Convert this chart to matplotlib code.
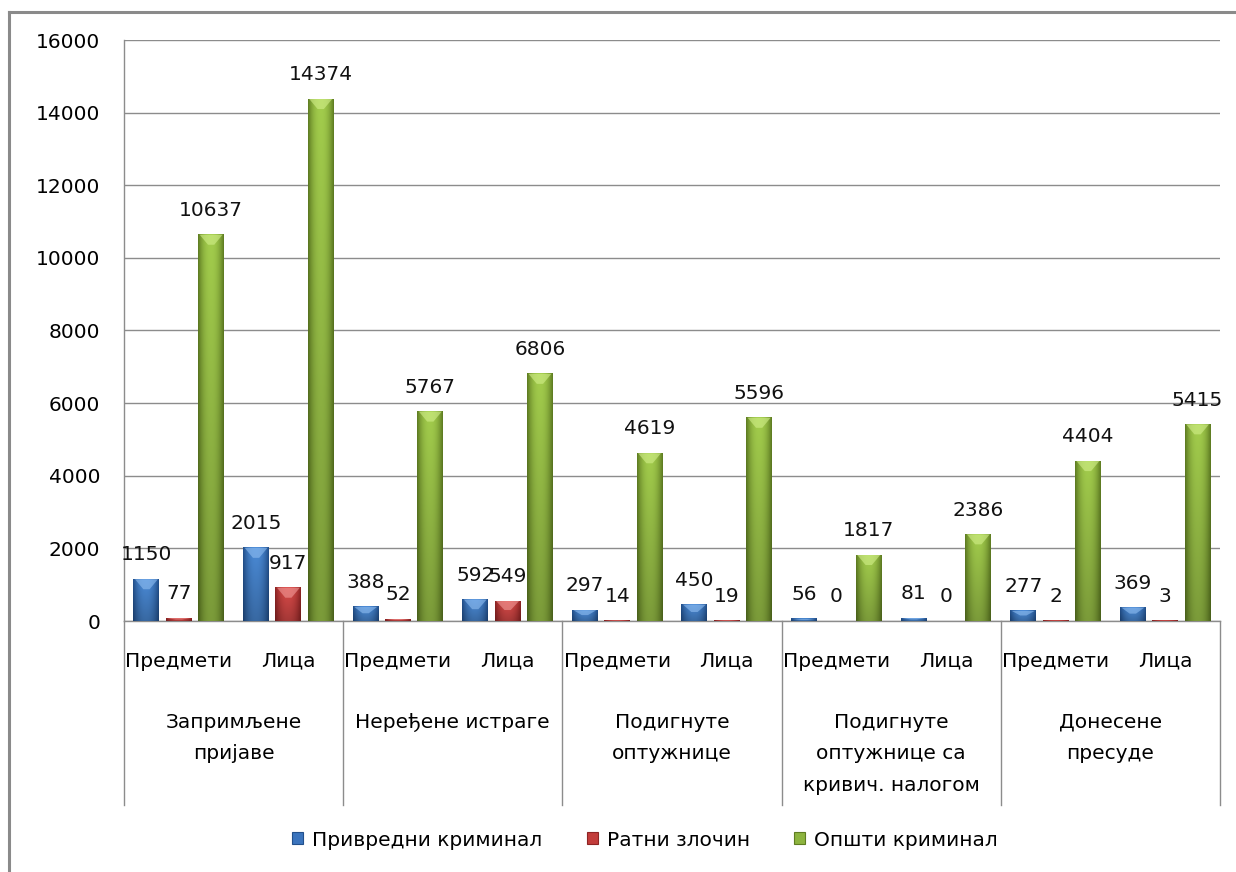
import numpy as np
import matplotlib
matplotlib.use("Agg")
import matplotlib.pyplot as plt
import matplotlib.transforms as mtransforms
from matplotlib.colors import to_rgb
from matplotlib.patches import Patch, Polygon
from matplotlib.lines import Line2D

plt.rcParams["font.family"] = ["DejaVu Sans"]

# chart data
groups = ["Запримљене\nпријаве",
          "\u041d\u0435\u0440\u0435\u0452\u0435\u043d\u0435 \u0438\u0441\u0442\u0440\u0430\u0433\u0435",
          "Подигнуте\nоптужнице",
          "Подигнуте\nоптужнице са\nкривич. налогом", "Донесене\nпресуде"]
subcats = ["Предмети", "Лица"]
series = ["Привредни криминал", "Ратни злочин", "Општи криминал"]
privredni = [1150, 2015, 388, 592, 297, 450, 56, 81, 277, 369]
ratni = [77, 917, 52, 549, 14, 19, 0, 0, 2, 3]
opsti = [10637, 14374, 5767, 6806, 4619, 5596, 1817, 2386, 4404, 5415]
yticks = [0, 2000, 4000, 6000, 8000, 10000, 12000, 14000, 16000]

# (dark edge, light centre, bevel highlight)
colors = [("#22508c", "#4a8ad6", "#8fbdf0"),
          ("#8e2424", "#d94a48", "#f09a98"),
          ("#5f7d22", "#a2cc4c", "#d2ef8a")]
legend_colors = ["#3b74bd", "#c23c3a", "#8db43f"]

FS = 14.5
W, H = 1236, 872
fig = plt.figure(figsize=(W / 100, H / 100), dpi=100)
ax = fig.add_axes([124 / W, 1 - 621 / H, (1220 - 124) / W, (621 - 40) / H])

ymax = yticks[-1]
ax.set_xlim(-0.5, len(privredni) - 0.5)
ax.set_ylim(0, ymax)
px = ymax / 581.0  # data units per pixel

ax.set_yticks(yticks)
ax.set_yticklabels([str(v) for v in yticks], fontsize=FS)
ax.tick_params(axis="y", length=0, pad=17)
ax.set_xticks([])
ax.grid(axis="y", color="#8c8c8c", linewidth=1.0, zorder=0)
ax.set_axisbelow(True)
for s in ["top", "right"]:
    ax.spines[s].set_visible(False)
for s in ["left", "bottom"]:
    ax.spines[s].set_color("#8c8c8c")
    ax.spines[s].set_linewidth(1.0)

x = np.arange(len(privredni))
bw = 0.237
offsets = [-0.295, 0.0, 0.295]

prof = np.linspace(0, 1, 40)
horiz = 1 - np.abs(2 * prof - 1) ** 2.2
vert = np.linspace(0, 1, 60)[:, None]

for si, vals in enumerate([privredni, ratni, opsti]):
    dark, light, hl = [np.array(to_rgb(c)) for c in colors[si]]
    img = dark[None, None, :] + (light - dark)[None, None, :] * horiz[None, :, None]
    img = img * (0.76 + 0.24 * vert[:, :, None])
    img = np.clip(img, 0, 1)
    bars = ax.bar(x + offsets[si], vals, width=bw, color=light, edgecolor="none", zorder=2)
    for b, v in zip(bars, vals):
        xc = b.get_x() + b.get_width() / 2
        ax.annotate(str(v), (xc, v), xytext=(0, 17.5), textcoords="offset points",
                    ha="center", va="center", fontsize=FS, color="#111111", zorder=5)
        if v <= 0:
            continue
        x0, w = b.get_x(), b.get_width()
        ax.imshow(img, extent=[x0, x0 + w, 0, v], origin="lower", aspect="auto",
                  zorder=3, interpolation="bilinear")
        bh = min(10 * px, v * 0.45)
        bevel = Polygon([(x0 + w * 0.06, v), (x0 + w * 0.94, v),
                         (xc + w * 0.12, v - bh), (xc - w * 0.12, v - bh)],
                        closed=True, facecolor=hl, edgecolor="none", alpha=0.6, zorder=4)
        ax.add_patch(bevel)

ax.set_xlim(-0.5, len(privredni) - 0.5)
ax.set_ylim(0, ymax)

# category axis: subcategory and group labels with separators
trans = mtransforms.blended_transform_factory(ax.transData, ax.transAxes)
ah = 581.0
for i in range(len(privredni)):
    ax.text(i, -(661 - 621) / ah, subcats[i % 2], transform=trans, ha="center",
            va="center", fontsize=FS, clip_on=False)
for g, label in enumerate(groups):
    xc = 2 * g + 0.5
    for li, line in enumerate(label.split("\n")):
        ax.text(xc, -(722 + 31.5 * li - 621) / ah, line, transform=trans, ha="center",
                va="center", fontsize=FS, clip_on=False)
for g in range(len(groups) + 1):
    xb = 2 * g - 0.5
    ax.add_line(Line2D([xb, xb], [0, -(805 - 621) / ah], transform=trans,
                       color="#8c8c8c", linewidth=1.0, clip_on=False))

handles = [Patch(facecolor=legend_colors[i], edgecolor=colors[i][0], linewidth=0.8)
           for i in range(3)]
fig.legend(handles, series, loc="center", bbox_to_anchor=(645 / W, 1 - 840 / H),
           ncol=3, frameon=False, fontsize=FS, handlelength=0.55, handleheight=0.55,
           handletextpad=0.45, columnspacing=2.2)

# outer chart border (cropped on the right and bottom)
fig.add_artist(Line2D([9 / W, 9 / W], [0, 1 - 12 / H], transform=fig.transFigure,
                      color="#8a8a8a", linewidth=2.2))
fig.add_artist(Line2D([9 / W, 1], [1 - 12 / H, 1 - 12 / H], transform=fig.transFigure,
                      color="#8a8a8a", linewidth=2.2))

fig.savefig("out.png", dpi=100)
